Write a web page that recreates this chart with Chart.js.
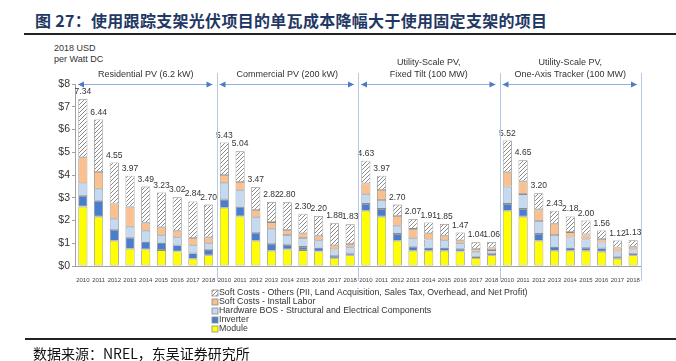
<!DOCTYPE html>
<html><head><meta charset="utf-8">
<script src="https://cdn.jsdelivr.net/npm/chart.js@4.4.0/dist/chart.umd.min.js"></script>
<style>
html,body{margin:0;padding:0;background:#fff;}
#wrap{position:relative;width:676px;height:361px;overflow:hidden;background:#fff;}
#title{position:absolute;left:35px;top:8px;font:bold 16px 'Noto Sans CJK SC';color:#1f3864;white-space:nowrap;letter-spacing:0.3px;}
#rule1{position:absolute;left:24px;right:0;top:33px;height:2px;background:#222;}
#unit{position:absolute;left:54px;top:43px;font:9px 'Liberation Sans Narrow','Liberation Sans';color:#333;line-height:11px;}
#rule2{position:absolute;left:25px;right:0;top:338px;height:2px;background:#222;}
#source{position:absolute;left:33px;top:343px;font:14px 'Noto Sans CJK SC';color:#111;white-space:nowrap;}
canvas{position:absolute;left:0;top:0;}
</style></head>
<body><div id="wrap">
<div id="title">图 27：使用跟踪支架光伏项目的单瓦成本降幅大于使用固定支架的项目</div>
<div id="rule1"></div>
<div id="unit">2018 USD<br>per Watt DC</div>
<canvas id="c" width="676" height="361"></canvas>
<div id="rule2"></div>
<div id="source">数据来源：NREL，东吴证券研究所</div>
</div>
<script>
// ---- data ----
const years = ['2010','2011','2012','2013','2014','2015','2016','2017','2018'];
const groups = [['Residential PV (6.2 kW)'], ['Commercial PV (200 kW)'], ['Utility-Scale PV,','Fixed Tilt (100 MW)'], ['Utility-Scale PV,','One-Axis Tracker (100 MW)']];
const module_ = [2.61,2.17,1.11,0.76,0.73,0.70,0.64,0.32,0.47, 2.56,2.18,1.11,0.67,0.73,0.70,0.64,0.34,0.47, 2.43,2.17,1.11,0.67,0.67,0.67,0.64,0.34,0.47, 2.43,2.17,1.11,0.67,0.67,0.67,0.63,0.32,0.47];
const inverter = [0.47,0.70,0.47,0.47,0.35,0.33,0.27,0.24,0.23, 0.37,0.43,0.34,0.30,0.19,0.14,0.17,0.10,0.09, 0.30,0.34,0.30,0.18,0.14,0.14,0.12,0.07,0.06, 0.30,0.34,0.30,0.19,0.14,0.12,0.15,0.09,0.06];
const hardwareBOS = [0.55,0.53,0.50,0.50,0.47,0.32,0.35,0.35,0.30, 0.73,0.72,0.69,0.67,0.44,0.39,0.32,0.29,0.26, 0.42,0.39,0.36,0.37,0.36,0.32,0.24,0.22,0.17, 0.76,0.65,0.57,0.50,0.44,0.38,0.25,0.23,0.20];
const installLabor = [1.15,0.73,0.67,0.88,0.35,0.35,0.29,0.32,0.26, 0.34,0.36,0.32,0.29,0.22,0.21,0.20,0.18,0.15, 0.48,0.44,0.43,0.41,0.27,0.20,0.13,0.12,0.11, 0.63,0.56,0.51,0.50,0.24,0.22,0.16,0.17,0.12];
const softOthers = [2.56,2.31,1.80,1.36,1.59,1.53,1.47,1.61,1.44, 1.43,1.35,1.01,0.89,1.22,0.86,0.87,0.97,0.86, 1.00,0.63,0.50,0.44,0.47,0.52,0.34,0.29,0.25, 1.40,0.93,0.71,0.57,0.69,0.61,0.37,0.31,0.28];
const totals = [7.34,6.44,4.55,3.97,3.49,3.23,3.02,2.84,2.70, 5.43,5.04,3.47,2.82,2.80,2.30,2.20,1.88,1.83, 4.63,3.97,2.70,2.07,1.91,1.85,1.47,1.04,1.06, 5.52,4.65,3.20,2.43,2.18,2.00,1.56,1.12,1.13];
const yTicks = [0,1,2,3,4,5,6,7,8];
const seriesNames = ['Module','Inverter','Hardware BOS - Structural and Electrical Components','Soft Costs - Install Labor','Soft Costs - Others (PII, Land Acquisition, Sales Tax, Overhead, and Net Profit)'];

const labels = [];
groups.forEach(()=>years.forEach(y=>labels.push(y)));

function hatch(){
  const c = document.createElement('canvas'); c.width = 4; c.height = 4;
  const x = c.getContext('2d');
  x.fillStyle = '#fff'; x.fillRect(0,0,4,4);
  x.strokeStyle = '#8a8a8a'; x.lineWidth = 1;
  x.beginPath(); x.moveTo(0,4); x.lineTo(4,0); x.moveTo(-1,1); x.lineTo(1,-1); x.moveTo(3,5); x.lineTo(5,3); x.stroke();
  return x.createPattern(c,'repeat');
}
const hatchPat = hatch();
const FONT = "'Liberation Sans Narrow','Liberation Sans'";

const colors = ['#ffff00','#4a7dcc','#c5d9f1','#fac090',hatchPat];
const dataArr = [module_,inverter,hardwareBOS,installLabor,softOthers];
const datasets = dataArr.map((d,i)=>({
  label: seriesNames[i], data: d, backgroundColor: colors[i],
  borderColor:'#8c8c8c', borderWidth:0.8, borderSkipped:false,
  categoryPercentage:1, barPercentage:0.58
}));

const overlay = {
  id:'overlay',
  afterDatasetsDraw(chart){
    const ctx = chart.ctx, xs = chart.scales.x, ys = chart.scales.y, ca = chart.chartArea;
    ctx.save();
    // value labels
    ctx.font = '8.5px '+FONT; ctx.fillStyle = '#333'; ctx.textAlign='center'; ctx.textBaseline='bottom';
    totals.forEach((t,i)=>{
      ctx.fillText(t.toFixed(2), xs.getPixelForValue(i), ys.getPixelForValue(t)-3);
    });
    // group headers
    const step = (ca.right-ca.left)/labels.length;
    groups.forEach((g,gi)=>{
      const l = ca.left + gi*years.length*step, r = l + years.length*step;
      const yA = ca.top;
      ctx.strokeStyle = '#b4c8e8'; ctx.lineWidth = 1;
      ctx.beginPath(); ctx.moveTo(Math.round(r)+0.5, 73); ctx.lineTo(Math.round(r)+0.5, 281); ctx.stroke();
      const a0 = l+3, a1 = r-4;
      ctx.strokeStyle = '#8fb0e0'; ctx.beginPath(); ctx.moveTo(a0, yA+0.5); ctx.lineTo(a1, yA+0.5); ctx.stroke();
      ctx.fillStyle = '#4f7ac4';
      ctx.beginPath(); ctx.moveTo(a0, yA+0.5); ctx.lineTo(a0+6, yA-2.5); ctx.lineTo(a0+6, yA+3.5); ctx.closePath(); ctx.fill();
      ctx.beginPath(); ctx.moveTo(a1, yA+0.5); ctx.lineTo(a1-6, yA-2.5); ctx.lineTo(a1-6, yA+3.5); ctx.closePath(); ctx.fill();
      ctx.fillStyle = '#333'; ctx.font = '9px '+FONT; ctx.textAlign='center'; ctx.textBaseline='middle';
      const cx = (l+r)/2;
      if (g.length===1) ctx.fillText(g[0], cx, 75);
      else { ctx.fillText(g[0], cx, 63); ctx.fillText(g[1], cx, 74.5); }
    });
    // legend
    ctx.font = '8.8px '+FONT; ctx.textAlign='left'; ctx.textBaseline='middle';
    const order = [4,3,2,1,0];
    order.forEach((di,k)=>{
      const y = 293 + k*9;
      ctx.fillStyle = colors[di]; ctx.fillRect(212, y-3, 6, 6);
      ctx.strokeStyle = '#8c8c8c'; ctx.lineWidth = 0.8; ctx.strokeRect(212, y-3, 6, 6);
      ctx.fillStyle = '#333'; ctx.fillText(seriesNames[di], 219, y);
    });
    ctx.restore();
  }
};

new Chart(document.getElementById('c'), {
  type:'bar',
  data:{labels, datasets},
  options:{
    responsive:false, animation:false,
    layout:{padding:{left:0,right:35,top:84,bottom:75}},
    plugins:{legend:{display:false}, tooltip:{enabled:false}},
    scales:{
      x:{stacked:true, grid:{display:false}, border:{color:'#a0a0a0'},
        ticks:{autoSkip:false, maxRotation:0, minRotation:0, padding:3, color:'#444', font:{size:6, family:FONT}},
        afterFit(s){ s.height = 20; }},
      y:{stacked:true, min:0, max:8, afterBuildTicks(s){ s.ticks = yTicks.map(v=>({value:v})); },
        grid:{drawOnChartArea:false, drawTicks:true, tickLength:3, color:'#a0a0a0'},
        border:{color:'#a0a0a0'},
        ticks:{callback:v=>'$'+v, color:'#333', padding:2, font:{size:10.5, family:"'Liberation Sans'"}},
        afterFit(s){ s.width = 75; }}
    }
  },
  plugins:[overlay]
});
</script>
</body></html>
